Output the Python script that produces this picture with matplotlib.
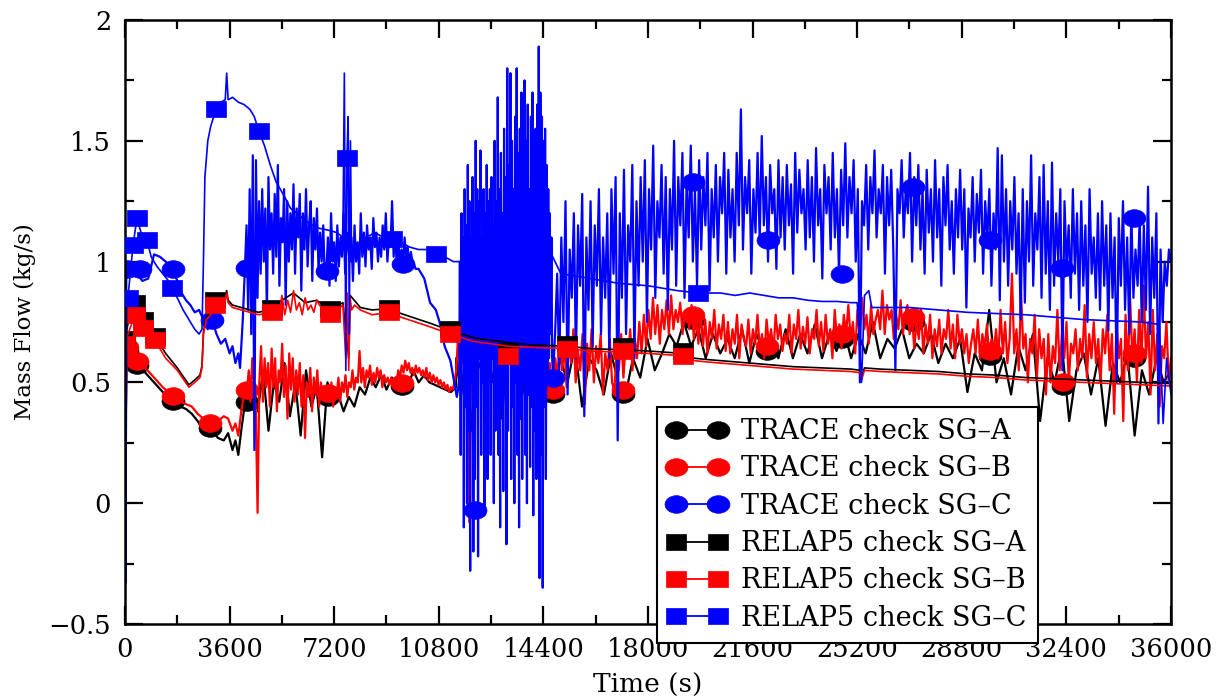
import numpy as np
import matplotlib
matplotlib.use('Agg')
import matplotlib.pyplot as plt
from matplotlib.lines import Line2D
from matplotlib.path import Path
from matplotlib.transforms import Affine2D
from matplotlib.ticker import MultipleLocator, FuncFormatter

plt.rcParams['font.family'] = ['DejaVu Serif']

# ---- data (time in s, mass flow in kg/s) ----
trace_a_start = [(0, 0.5), (20, 0.25), (50, 0.62), (150, 0.63), (410, 0.57), (700, 0.54),
                 (1000, 0.5), (1300, 0.46), (1650, 0.425), (1900, 0.4), (2100, 0.39),
                 (2300, 0.37), (2500, 0.34), (2700, 0.3), (2930, 0.31), (3200, 0.27),
                 (3400, 0.26), (3550, 0.29), (3700, 0.22), (3800, 0.26), (3900, 0.2),
                 (4000, 0.3), (4100, 0.39)]
trace_a_mid = [0.42, 0.5, 0.38, 0.55, 0.3, 0.5, 0.42, 0.58, 0.36, 0.5, 0.28, 0.55, 0.4, 0.48,
               0.19, 0.5, 0.42, 0.45, 0.38, 0.44, 0.4, 0.48, 0.45, 0.52, 0.48, 0.53, 0.47,
               0.52, 0.49, 0.5, 0.48, 0.55, 0.5, 0.53, 0.5, 0.49, 0.48, 0.47, 0.46, 0.48]
trace_a_blob = [0.6, 0.45, 0.65, 0.3, 0.6, 0.55, 0.68, 0.5, 0.62, 0.35, 0.65, 0.55, 0.6, 0.45,
                0.66, 0.5, 0.58, 0.4, 0.5, 0.45]
trace_a_late = [0.45, 0.6, 0.5, 0.65, 0.4, 0.6, 0.55, 0.45, 0.62, 0.5, 0.45, 0.6, 0.52, 0.68,
                0.55, 0.62, 0.7, 0.65,
                0.75, 0.65, 0.72, 0.6, 0.7, 0.62, 0.68, 0.6, 0.72, 0.58, 0.7, 0.62, 0.68, 0.6,
                0.72, 0.6, 0.7, 0.62, 0.74, 0.6, 0.7, 0.63, 0.72, 0.6,
                0.7, 0.62, 0.75, 0.6, 0.68, 0.64, 0.72, 0.6, 0.66, 0.62, 0.7, 0.58, 0.66, 0.6,
                0.68, 0.46, 0.62, 0.55, 0.8, 0.5,
                0.6, 0.45, 0.65, 0.55, 0.7, 0.34, 0.6, 0.5, 0.65, 0.34, 0.55, 0.62, 0.45, 0.6,
                0.32, 0.58, 0.5, 0.62, 0.28, 0.55, 0.45, 0.6, 0.5, 0.55]

trace_b_start = [(0, 0.65), (20, 0.3), (60, 0.645), (150, 0.64), (410, 0.59), (700, 0.56),
                 (1000, 0.52), (1300, 0.48), (1650, 0.445), (1900, 0.42), (2100, 0.41),
                 (2300, 0.4), (2500, 0.37), (2700, 0.35), (2930, 0.33), (3200, 0.34),
                 (3400, 0.36), (3550, 0.35), (3700, 0.3), (3800, 0.33), (3900, 0.28),
                 (4000, 0.38), (4100, 0.45)]
trace_b_mid = [0.47, 0.55, 0.42, 0.6, 0.5, 0.38, -0.04, 0.5, 0.65, 0.42, 0.6, 0.48, 0.58,
               0.4, 0.64, 0.48, 0.6, 0.38, 0.55, 0.5, 0.66, 0.44, 0.57, 0.35, 0.62, 0.47, 0.6,
               0.42, 0.55, 0.45,
               0.58, 0.4, 0.53, 0.27, 0.5, 0.44, 0.56, 0.38, 0.52, 0.45, 0.55, 0.4, 0.5, 0.43,
               0.48, 0.42, 0.455,
               0.43, 0.5, 0.4, 0.48, 0.45, 0.52, 0.42, 0.5, 0.46, 0.53, 0.44, 0.5, 0.48, 0.55,
               0.47, 0.52, 0.5,
               0.63, 0.5, 0.56, 0.48, 0.55, 0.52, 0.57, 0.49, 0.54, 0.5, 0.56, 0.52, 0.55,
               0.48, 0.53, 0.5, 0.52,
               0.49, 0.52, 0.48, 0.5, 0.496, 0.55, 0.52, 0.57, 0.54, 0.59, 0.55, 0.58, 0.54,
               0.56, 0.53, 0.57, 0.54,
               0.56, 0.53, 0.55, 0.52, 0.56, 0.51, 0.54, 0.5, 0.53, 0.5, 0.52, 0.49, 0.51,
               0.48, 0.5, 0.47, 0.49, 0.46, 0.48, 0.47, 0.5, 0.55]
trace_b_blob = [0.55, 0.68, 0.6, 0.72, 0.58, 0.7, 0.62, 0.75, -0.08, 0.66, 0.6, 0.75, 0.55,
                0.7, 0.62, 0.73, 0.5, 0.68, 0.6, 0.72,
                0.57, 0.7, 0.62, 0.76, 0.55, 0.68, 0.63, 0.72, 0.5, 0.67, 0.6, 0.74, 0.58,
                0.7, 0.45, 0.66, 0.6, 0.7, 0.55, 0.68,
                0.62, 0.72, 0.58, 0.75, 0.6, 0.7, 0.52, 0.68, 0.62, 0.73, 0.55, 0.66, 0.6,
                0.7, 0.55, 0.62, 0.5, 0.58, 0.48, 0.467]
trace_b_late = [0.467, 0.6, 0.52, 0.7, 0.55, 0.65, 0.48, 0.68, 0.58, 0.72, 0.5, 0.63, 0.55,
                0.7, 0.41, 0.66, 0.55, 0.72, 0.5, 0.65, 0.58, 0.7, 0.45, 0.62, 0.55, 0.68,
                0.5, 0.467, 0.62, 0.55, 0.7, 0.52, 0.66, 0.6, 0.72, 0.55, 0.68, 0.6, 0.75,
                0.62, 0.78, 0.65, 0.8, 0.68, 0.85, 0.7, 0.82, 0.66, 0.8, 0.72, 0.84, 0.7,
                0.86, 0.72, 0.8, 0.75, 0.83, 0.7, 0.78, 0.8, 0.72, 0.82, 0.68, 0.78, 0.66,
                0.8, 0.65, 0.76, 0.62, 0.75, 0.68, 0.8, 0.64, 0.74, 0.68, 0.78, 0.63, 0.75,
                0.62, 0.72, 0.66, 0.78, 0.6, 0.74, 0.68, 0.65, 0.76, 0.62, 0.72, 0.66, 0.78,
                0.64, 0.7, 0.6, 0.76, 0.66, 0.72, 0.62, 0.78, 0.68, 0.74, 0.63, 0.7, 0.66,
                0.78, 0.62, 0.74, 0.68, 0.8, 0.64, 0.73, 0.66, 0.77, 0.62, 0.72, 0.68, 0.8,
                0.65, 0.75, 0.63, 0.78, 0.66, 0.72, 0.6, 0.8, 0.68, 0.74, 0.64, 0.78, 0.7,
                0.82, 0.68, 0.75, 0.62, 0.8, 0.7, 0.85, 0.72, 0.78, 0.66, 0.82, 0.7, 0.76,
                0.8, 0.72, 0.88, 0.7, 0.82, 0.76, 0.8, 0.68, 0.78, 0.72, 0.84, 0.7, 0.78,
                0.82, 0.7, 0.78, 0.64, 0.75, 0.68, 0.8, 0.62, 0.74, 0.66, 0.78, 0.6, 0.72,
                0.65, 0.76, 0.62, 0.72, 0.68, 0.8, 0.64, 0.74, 0.6, 0.78, 0.66, 0.72, 0.62,
                0.7, 0.58, 0.66, 0.72, 0.62, 0.76, 0.6, 0.7, 0.64, 0.74, 0.6, 0.68, 0.63,
                0.72, 0.6, 0.8, 0.62, 0.75, 0.58, 0.68, 0.95, 0.62, 0.72, 0.55, 0.87, 0.64,
                0.7, 0.5, 0.68, 0.62, 0.78, 0.52, 0.72, 0.6, 0.68, 0.45, 0.7, 0.5, 0.65,
                0.58, 0.8, 0.55, 0.7, 0.6, 0.75, 0.5, 0.66, 0.62, 0.72, 0.55, 0.68, 0.6,
                0.82, 0.52, 0.7, 0.6, 0.75, 0.58, 0.68, 0.5, 0.72, 0.62, 0.78, 0.55, 0.7,
                0.37, 0.75, 0.6, 0.68, 0.34, 0.78, 0.55, 0.85, 0.6, 0.72, 0.5, 0.8, 0.58,
                0.9, 0.6, 0.75, 0.45, 0.8, 0.55, 0.7, 0.4, 0.65, 0.6, 0.75, 0.5, 0.6]

trace_c_start = [(0, 0.97), (20, -0.33), (45, 0.97), (170, 0.97), (400, 0.95), (600, 0.92),
                 (800, 0.93), (1000, 1.03), (1200, 1.02), (1400, 1.0), (1650, 0.97),
                 (1800, 0.92), (1950, 0.87), (2100, 0.84), (2250, 0.82), (2400, 0.79),
                 (2550, 0.8), (2700, 0.76), (2850, 0.72), (3000, 0.76), (3150, 0.7),
                 (3300, 0.66), (3450, 0.68), (3600, 0.62), (3700, 0.65), (3800, 0.58),
                 (3900, 0.62), (3960, 0.56), (4050, 0.75)]
trace_c_mid = [0.98, 1.15, 0.8, 1.3, 0.7, 1.44, 0.22, 1.42, 0.85, 1.25, 0.95,
               1.3, 1.0, 1.22, 0.78, 1.35, 1.05, 1.2, 0.95, 1.28, 1.02, 1.4, 0.9, 1.18, 1.08,
               1.3, 0.82, 1.25, 1.0, 1.2,
               1.05, 1.32, 0.95, 1.22, 1.1, 1.28, 0.88, 1.2, 1.05, 1.3, 0.98, 1.15, 1.25,
               0.92, 1.18, 1.05, 1.22, 0.96, 1.12,
               1.0, 1.15, 0.93, 0.96, 1.1, 0.9, 1.2, 1.0, 1.08, 0.92, 1.15, 0.98, 1.1, 1.02,
               1.2, 0.95, 1.12, 1.05, 1.0,
               1.1, 0.92, 1.15, 1.0, 1.08, 0.95, 1.2, 1.02, 1.12, 0.98, 1.15, 1.05, 1.1, 0.97,
               1.18, 1.06, 1.12, 1.0, 1.1,
               1.02, 1.15, 1.05, 1.2, 1.0, 1.1, 1.06, 1.25, 1.02, 1.12, 0.98, 1.08, 1.0, 1.05,
               0.99, 1.1, 1.02, 1.06, 0.98, 1.04, 1.0, 0.99, 0.97]
trace_c_fall = [(10100, 0.97), (10300, 0.93), (10500, 0.83), (10700, 0.8), (10850, 0.74),
                (11000, 0.65), (11200, 0.59), (11420, 0.44)]
trace_c_blob = [0.5, 1.0, 0.2, 1.2, 0.6, 1.1, -0.1, 1.3, 0.4, 1.15, 0.0, 1.4, 0.3, 1.25,
                -0.28, 1.1, 0.5, 1.35, -0.2, 1.2,
                0.1, 1.5, 0.4, 1.3, -0.22, 1.25, 0.6, 1.46, 0.2, 1.1, 0.5, 1.3, -0.05, 1.2,
                0.35, 1.4, 0.1, 1.25, 0.5, 1.3,
                0.2, 1.35, 0.6, 1.15, 0.0, 1.5, 0.3, 1.25, 0.55, 1.68, 0.2, 1.3, -0.1, 1.45,
                0.4, 1.2, 0.05, 1.55, 0.5, 1.35,
                -0.17, 1.8, 0.3, 1.4, 0.6, 1.78, 0.1, 1.5, 0.4, 1.3, 0.0, 1.6, 0.5, 1.8, 0.2,
                1.45, -0.1, 1.55, 0.35, 1.7,
                0.1, 1.4, 0.5, 1.75, 0.2, 1.5, 0.0, 1.65, 0.45, 1.3, 0.15, 1.6, 0.4, 1.7,
                -0.05, 1.45, 0.3, 1.55, 0.1, 1.65,
                0.3, 1.89, -0.31, 1.7, 0.2, 1.6, -0.35, 1.5, 0.4, 1.55, 0.1, 1.4, 0.5, 1.3,
                0.6, 1.2, 0.7, 1.1, 0.6, 0.52]
trace_c_late = [0.52, 0.7, 0.95, 0.55, 1.1, 0.75, 1.25, 0.45, 1.05, 0.85, 1.2, 0.6, 1.15, 0.9,
                1.28, 0.36, 1.1, 0.8, 1.25, 0.65, 1.15, 0.9, 1.3, 0.7, 1.1, 0.85, 1.2, 0.6,
                1.3, 0.95, 1.35, 0.26, 1.2, 0.85, 1.38, 0.7, 1.15, 1.0, 1.4, 0.6, 1.25, 0.9,
                1.35, 1.0, 1.42, 0.75, 1.3, 1.05, 1.48, 0.85, 1.25, 1.1, 1.4, 0.95, 1.35, 0.8,
                1.3, 1.05, 1.5, 0.9, 1.35, 1.15, 1.45, 0.85, 1.33, 1.1, 1.48, 1.0, 1.3, 0.9,
                1.42, 1.05, 1.35, 1.15, 1.45, 0.88, 1.3, 1.1, 1.4, 1.0, 1.35, 1.2, 1.45, 0.95,
                1.38, 1.1, 1.3, 1.0, 1.45, 1.15, 1.63, 1.05, 1.35, 1.2, 1.42, 0.95, 1.3, 1.12,
                1.45, 1.09, 1.52, 1.15, 1.35, 1.0, 1.4, 1.2, 1.3, 0.97, 1.42, 1.1, 1.35, 1.05,
                1.4, 1.15, 1.32, 0.95, 1.45, 1.12, 1.38, 1.2, 1.3, 1.05, 1.42, 1.1, 1.35, 1.0,
                1.47, 1.15, 1.3, 0.93, 1.4, 1.2, 1.35, 1.05, 1.45, 1.1, 1.3, 0.95, 1.38, 1.15,
                1.49, 1.1, 1.35, 1.2, 1.42, 1.0, 1.3, 0.5, 1.25, 1.15, 1.4, 1.05, 1.35, 1.2,
                1.46, 1.1, 1.3, 1.2, 1.4, 0.95, 1.35, 1.15, 1.38, 1.05, 0.55, 1.3, 1.2, 1.42,
                1.1, 1.31, 1.2, 1.45, 1.0, 1.35, 1.15, 1.4, 1.05, 1.3, 0.95, 1.38, 1.12, 1.3,
                1.0, 1.42, 1.1, 1.3, 0.9, 1.35, 1.15, 1.4, 1.05, 1.25, 0.95, 1.3, 1.1, 1.38,
                1.05, 1.3, 0.81, 1.22, 1.1, 1.35, 1.0, 1.28, 1.12, 1.38, 0.95, 1.25, 1.09, 1.3,
                0.9, 1.2, 1.05, 1.47, 0.84, 1.44, 1.0, 1.3, 0.9, 1.25, 1.05, 1.35, 0.95, 1.2,
                0.76, 1.3, 0.83, 1.25, 1.0, 1.44, 0.9, 1.2, 1.05, 1.35, 0.85, 1.4, 0.95, 1.25,
                0.8, 1.41, 0.9, 1.2, 1.0, 1.3, 0.55, 1.25, 0.975, 1.15, 0.85, 1.3, 0.95, 1.2,
                0.8, 1.25, 0.9, 1.15, 0.75, 1.3, 0.95, 1.1, 0.85, 1.2, 0.8, 1.25, 0.9, 1.15,
                0.715, 1.2, 0.85, 1.1, 0.5, 1.18, 0.9, 1.25, 0.8, 1.1, 0.7, 1.2, 0.85, 1.05,
                0.9, 1.18, 0.75, 1.15, 0.8, 1.31, 0.7, 1.1, 0.85, 1.2, 0.33, 1.05, 0.75, 1.0,
                0.9, 1.05, 1.0]

relap_a = [(0, 0.68), (100, 0.74), (340, 0.83), (620, 0.76), (1030, 0.69), (1400, 0.62),
           (1800, 0.56), (2200, 0.49), (2400, 0.51), (2580, 0.53), (2650, 0.57),
           (2700, 0.71), (2800, 0.77), (2950, 0.79), (3100, 0.83), (3300, 0.82),
           (3450, 0.85), (3500, 0.88), (3550, 0.84), (3700, 0.82), (4000, 0.81),
           (4300, 0.8), (4600, 0.79), (5060, 0.805), (5400, 0.84), (5800, 0.87),
           (6200, 0.83), (6600, 0.84), (7060, 0.8), (7500, 0.83), (7700, 0.6),
           (7750, 0.86), (8100, 0.81), (8500, 0.8), (9090, 0.805), (9500, 0.785),
           (10000, 0.765), (10500, 0.745), (11190, 0.715), (12000, 0.685), (13180, 0.665),
           (14000, 0.655), (15200, 0.65), (16000, 0.64), (17140, 0.635), (18000, 0.63),
           (19200, 0.62), (19600, 0.6), (20000, 0.595), (21000, 0.585), (22000, 0.575),
           (23000, 0.565), (24000, 0.56), (25000, 0.555), (25300, 0.55), (25350, 0.52),
           (25450, 0.56), (26000, 0.555), (27000, 0.55), (28000, 0.545), (29000, 0.535),
           (30000, 0.53), (31000, 0.52), (32000, 0.515), (33000, 0.51), (34000, 0.505),
           (35000, 0.5), (36000, 0.495)]
relap_b = [(0, 0.66), (100, 0.7), (340, 0.777), (620, 0.727), (1030, 0.674), (1400, 0.6),
           (1800, 0.55), (2200, 0.48), (2400, 0.5), (2580, 0.52), (2650, 0.56), (2700, 0.7),
           (2800, 0.76), (2950, 0.78), (3100, 0.82), (3300, 0.81), (3450, 0.84),
           (3500, 0.87), (3550, 0.83), (3700, 0.81), (4000, 0.8), (4300, 0.79),
           (4600, 0.78), (5060, 0.79), (5200, 0.82), (5300, 0.77), (5400, 0.86),
           (5500, 0.78), (5600, 0.84), (5700, 0.79), (5800, 0.88), (5900, 0.8),
           (6000, 0.83), (6100, 0.78), (6200, 0.85), (6300, 0.8), (6400, 0.82),
           (6500, 0.79), (6600, 0.84), (6800, 0.8), (7060, 0.785), (7300, 0.8),
           (7500, 0.82), (7600, 0.6), (7650, 0.87), (7700, 0.55), (7750, 0.85),
           (7800, 0.8), (7900, 0.82), (8100, 0.8), (8500, 0.78), (9090, 0.79),
           (9500, 0.77), (10000, 0.75), (10500, 0.73), (11190, 0.7), (12000, 0.67),
           (13180, 0.65), (14000, 0.645), (15200, 0.64), (16000, 0.63), (17140, 0.625),
           (18000, 0.62), (19200, 0.61), (19600, 0.59), (20000, 0.585), (21000, 0.575),
           (22000, 0.565), (23000, 0.555), (24000, 0.55), (25000, 0.545), (25300, 0.54),
           (25350, 0.51), (25450, 0.55), (26000, 0.545), (27000, 0.54), (28000, 0.535),
           (29000, 0.525), (30000, 0.52), (31000, 0.51), (32000, 0.505), (33000, 0.5),
           (34000, 0.495), (35000, 0.49), (36000, 0.485)]
relap_c = [(0, 0.86), (30, -0.1), (60, 0.86), (100, 0.85), (280, 1.07), (410, 1.18),
           (600, 1.1), (760, 1.09), (900, 1.02), (1100, 0.98), (1300, 0.95), (1500, 0.92),
           (1620, 0.89), (1800, 0.85), (2000, 0.8), (2200, 0.76), (2400, 0.72),
           (2550, 0.7), (2650, 0.72), (2700, 1.0), (2750, 1.35), (2850, 1.5), (2950, 1.56),
           (3130, 1.63), (3300, 1.66), (3450, 1.67), (3500, 1.78), (3550, 1.67),
           (3700, 1.68), (3900, 1.66), (4100, 1.65), (4300, 1.63), (4450, 1.6),
           (4610, 1.54), (4800, 1.48), (5000, 1.4), (5200, 1.33), (5440, 1.28),
           (5700, 1.22), (5920, 1.2), (6200, 1.17), (6600, 1.14), (7000, 1.13),
           (7300, 1.12), (7500, 1.1), (7550, 1.78), (7600, 0.55), (7640, 1.43),
           (7680, 1.6), (7720, 0.7), (7760, 1.5), (7800, 1.0), (8000, 1.06), (8300, 1.1),
           (8600, 1.12), (8900, 1.1), (9190, 1.095), (9500, 1.08), (9800, 1.06),
           (10100, 1.05), (10400, 1.05), (10700, 1.03), (11000, 1.02), (11300, 1.0),
           (11600, 1.0), (11900, 0.99), (12190, 0.99), (12500, 0.9), (12800, 1.1),
           (13100, 0.95), (13400, 1.12), (13700, 0.97), (14000, 1.08), (14300, 0.9),
           (14600, 1.05), (15000, 0.95), (16000, 0.93), (17000, 0.91), (18000, 0.9),
           (19000, 0.88), (19720, 0.87), (20500, 0.87), (21000, 0.86), (21500, 0.87),
           (22000, 0.86), (22500, 0.85), (23000, 0.85), (23500, 0.84), (24000, 0.835),
           (24500, 0.835), (25000, 0.83), (25200, 0.83), (25350, 0.5), (25450, 0.86),
           (25600, 0.88), (25700, 0.81), (26000, 0.81), (27000, 0.81), (28000, 0.8),
           (29000, 0.79), (30000, 0.785), (31000, 0.78), (32000, 0.77), (33000, 0.76),
           (34000, 0.755), (35000, 0.75), (35600, 0.74), (35730, 0.33), (35850, 0.6),
           (36000, 0.45)]

# marker positions (symbols along each curve)
trace_mark_t = [60, 410, 1650, 2930, 4200, 6990, 9530, 12050, 14730, 17140, 19550, 22100,
                24680, 27120, 29780, 32290, 34730]
trace_a_mark = [0.63, 0.57, 0.425, 0.31, 0.42, 0.44, 0.485, 0.64, 0.45, 0.45, 0.76, 0.63,
                0.68, 0.75, 0.61, 0.485, 0.6]
trace_b_mark = [0.645, 0.59, 0.445, 0.33, 0.467, 0.455, 0.496, 0.66, 0.467, 0.467, 0.78,
                0.65, 0.7, 0.77, 0.63, 0.5, 0.62]
trace_c_mark_t = [60, 500, 1650, 3000, 4200, 6950, 9570, 12050, 14730, 19550, 22130,
                  24680, 27120, 29780, 32250, 34730]
trace_c_mark = [0.97, 0.97, 0.97, 0.76, 0.975, 0.96, 0.99, -0.03, 0.52, 1.33, 1.09,
                0.95, 1.31, 1.09, 0.975, 1.18]
relap_ab_mark_t = [0, 340, 620, 1030, 3100, 5060, 7060, 9090, 11190, 13180, 15200, 17140,
                   19200]
relap_a_mark = [0.68, 0.83, 0.76, 0.69, 0.84, 0.81, 0.805, 0.81, 0.72, 0.63, 0.66, 0.65,
                0.63]
relap_b_mark = [0.66, 0.777, 0.727, 0.674, 0.82, 0.79, 0.785, 0.79, 0.7, 0.61, 0.64, 0.63,
                0.61]
relap_c_mark_t = [100, 280, 410, 760, 1620, 3130, 4610, 7640, 9190, 10700, 12190, 13700,
                  19720]
relap_c_mark = [0.85, 1.07, 1.18, 1.09, 0.89, 1.63, 1.54, 1.43, 1.095, 1.03, 0.99, 0.97,
                0.87]

labels = ['TRACE check SG\u2013A', 'TRACE check SG\u2013B', 'TRACE check SG\u2013C',
          'RELAP5 check SG\u2013A', 'RELAP5 check SG\u2013B', 'RELAP5 check SG\u2013C']
colors = ['black', 'red', 'blue', 'black', 'red', 'blue']


def build(*parts):
    # parts: list of (t, v) pairs, or (t_start, t_end, values) sampled evenly
    ts, vs = [], []
    for p in parts:
        if isinstance(p, tuple):
            t0, t1, vals = p
            ts.extend(np.linspace(t0, t1, len(vals)))
            vs.extend(vals)
        else:
            a = np.array(p, dtype=float)
            ts.extend(a[:, 0])
            vs.extend(a[:, 1])
    return np.array(ts), np.array(vs)


curves = [
    build(trace_a_start, (4200, 11400, trace_a_mid), (11400, 14730, trace_a_blob),
          (14730, 36000, trace_a_late)),
    build(trace_b_start, (4200, 11400, trace_b_mid), (11400, 14730, trace_b_blob),
          (14730, 36000, trace_b_late)),
    build(trace_c_start, (4130, 10000, trace_c_mid), trace_c_fall,
          (11500, 14730, trace_c_blob), (14730, 36000, trace_c_late)),
    build(relap_a),
    build(relap_b),
    build(relap_c),
]
marks = [
    (trace_mark_t, trace_a_mark), (trace_mark_t, trace_b_mark),
    (trace_c_mark_t, trace_c_mark), (relap_ab_mark_t, relap_a_mark),
    (relap_ab_mark_t, relap_b_mark), (relap_c_mark_t, relap_c_mark),
]

# wide symbols, as in the original figure
ellipse = Path.unit_circle().transformed(Affine2D().scale(1.3, 1.0))
rect = Path([(-1.27, -1), (1.27, -1), (1.27, 1), (-1.27, 1), (-1.27, -1)], closed=True)
shapes = [ellipse, ellipse, ellipse, rect, rect, rect]
msizes = [16.5, 16.5, 16.5, 14, 14, 14]
widths = [1.6, 1.6, 1.6, 1.2, 1.2, 1.2]

fig = plt.figure(figsize=(12.29, 7.0), dpi=100)
ax = fig.add_axes([0.1017, 0.1086, 0.8511, 0.8628])

handles = []
for i, ((t, v), (mt, mv)) in enumerate(zip(curves, marks)):
    z = 2 + i * 0.1
    ax.plot(t, v, color=colors[i], lw=widths[i], zorder=z)
    ax.plot(mt, mv, ls='none', marker=shapes[i], ms=msizes[i], color=colors[i],
            mec=colors[i], mew=0.5, zorder=z + 0.05)
    handles.append(Line2D([], [], color=colors[i], lw=1.3, marker=shapes[i],
                          ms=msizes[i], mec=colors[i], mew=0.5))

ax.set_xlim(0, 36000)
ax.set_ylim(-0.5, 2)
ax.xaxis.set_major_locator(MultipleLocator(3600))
ax.xaxis.set_minor_locator(MultipleLocator(1800))
ax.yaxis.set_major_locator(MultipleLocator(0.5))
ax.yaxis.set_minor_locator(MultipleLocator(0.25))
ax.yaxis.set_major_formatter(FuncFormatter(lambda y, p: ('%g' % y).replace('-', '\u2212')))
ax.tick_params(which='both', direction='in', top=True, right=True, width=1.6,
               labelsize=18.5, colors='black')
ax.tick_params(which='major', length=13)
ax.tick_params(which='minor', length=6.5)
ax.tick_params(axis='x', which='major', pad=9.5)
ax.tick_params(axis='y', which='major', pad=10)
for s in ax.spines.values():
    s.set_linewidth(1.8)

ax.set_xlabel('Time (s)', fontsize=19, labelpad=8)
ax.set_ylabel('Mass Flow (kg/s)', fontsize=16.5, labelpad=9)

leg = ax.legend(handles, labels, loc='lower left', bbox_to_anchor=(0.5086, -0.0315),
                numpoints=2, fontsize=19.5, frameon=True, fancybox=False,
                edgecolor='black', framealpha=1, handlelength=2.15, handletextpad=0.55,
                labelspacing=0.38, borderpad=0.42, borderaxespad=0)
leg.get_frame().set_linewidth(1.5)
leg.set_zorder(10)

fig.savefig('out.png', dpi=100)
